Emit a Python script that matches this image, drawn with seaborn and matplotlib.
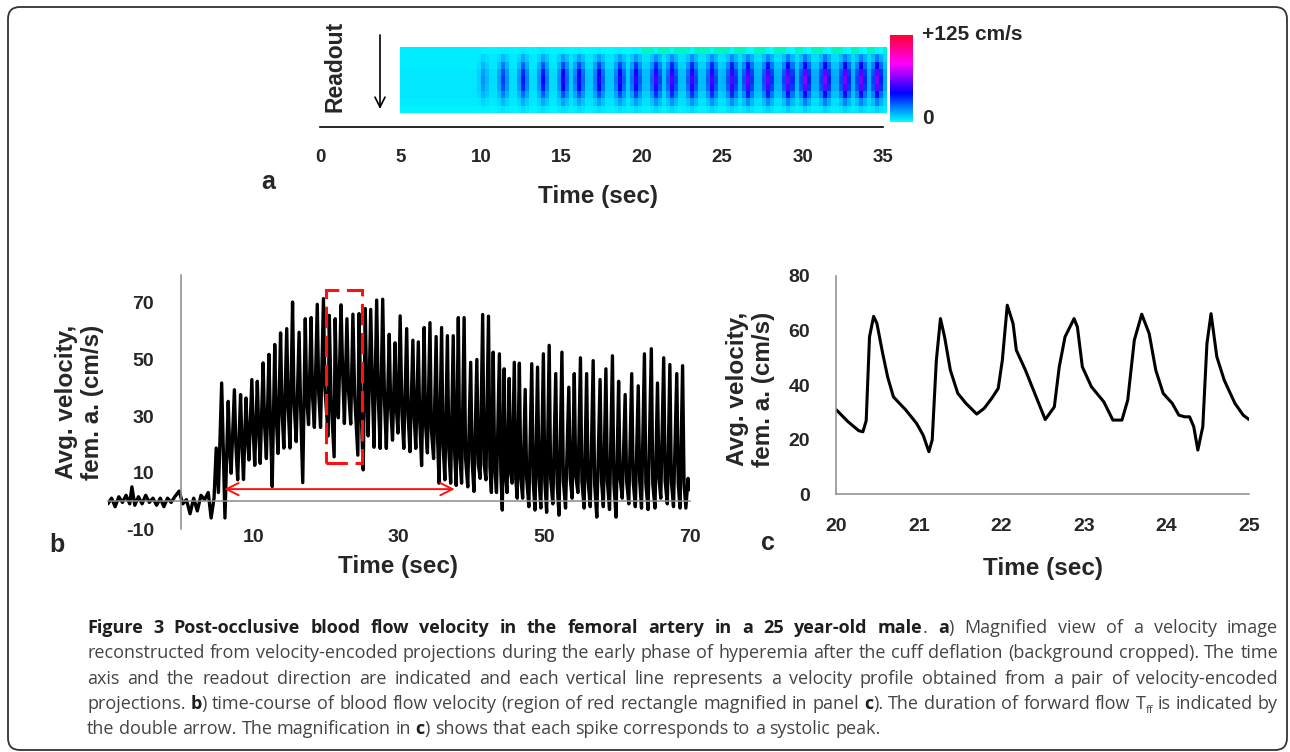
import numpy as np
import pandas as pd
import seaborn as sns
import matplotlib
matplotlib.use('Agg')
from matplotlib import pyplot as plt
from matplotlib import font_manager
from matplotlib.colors import LinearSegmentedColormap
from matplotlib.patches import Rectangle, FancyBboxPatch
from matplotlib.transforms import IdentityTransform

W, H = 1290, 752

# %% Panel a: velocity image (time columns of 0.25 s from 5 s)
aStart, aStep, aCols = 5.0, 0.25, 121
PulseTime = [10.0, 11.2, 12.4, 13.7, 14.9, 16.1, 17.3, 18.5, 19.6, 20.8, 21.8,
             23.0, 24.3, 25.4, 26.6, 27.7, 28.9, 30.1, 31.2, 32.4, 33.5, 34.6]
PulsePeak = [12, 26, 32, 35, 36, 36, 37, 38, 40, 42, 43,
             42, 42, 43, 45, 46, 48, 50, 50, 48, 48, 50]
PulseShape = [0.35, 1.0, 0.45]
RowGain = [0.05, 0.3, 0.65, 0.9, 1.0, 0.9, 0.6, 0.3, 0.1]
RowBase = [2, 3, 3, 4, 4, 4, 4, 3, 2]
BlockTime = [5, 10, 15, 20, 25, 30]
BlockLevel = [0, 2, 5, 7, 9, 10]
TopRowLevel = [3, 2, 1, -1, -1, -1]
ATicks = [0, 5, 10, 15, 20, 25, 30, 35]

# %% Panel b: averaged velocity, femoral artery (extremes of the trace)
BTime = [-10, -9.5, -9.0, -8.5, -8.0, -7.5, -7.0, -6.7, -6.3, -5.8, -5.3, -4.8, -4.3, -3.8,
         -3.3, -2.8, -2.3, -1.8, -1.3, -0.8, -0.2, 0.3, 0.8, 1.3, 1.8, 2.3, 2.8, 3.3, 3.8,
         4.2, 4.6,
         4.9, 5.2, 5.65, 5.9, 6.1, 6.55, 6.75, 6.95, 7.4, 7.6, 7.85, 8.25, 8.45, 8.65,
         9.0, 9.2, 9.4, 9.8, 10.0, 10.2, 10.55, 10.75, 10.95, 11.35, 11.55, 11.8, 12.15,
         12.35, 12.6, 12.95, 13.15, 13.4, 13.75, 13.95, 14.2, 14.6, 14.8, 15.05, 15.4,
         15.6, 15.9, 16.3, 16.5, 16.8, 17.15, 17.35, 17.6, 17.95, 18.15, 18.4, 18.8,
         19.0, 19.25, 19.65, 19.85, 20.3, 20.45, 20.7, 21.12, 21.26, 21.5, 21.7, 22.07,
         22.3, 22.53, 22.88, 23.1, 23.4, 23.7, 23.95, 24.38, 24.54, 24.8, 25.12, 25.4,
         25.6, 25.8, 26.15, 26.4, 26.6, 26.97, 27.2, 27.45, 27.8, 28.05, 28.3, 28.7,
         28.9, 29.15, 29.5, 29.7, 29.9, 30.2, 30.45, 30.7, 31.1, 31.3, 31.55, 31.95,
         32.15, 32.35, 32.7, 32.9, 33.15, 33.5, 33.7, 33.95, 34.3, 34.5, 34.8, 35.15,
         35.35, 35.55, 35.9, 36.1, 36.35, 36.7, 36.9, 37.15, 37.5, 37.7, 37.9, 38.2,
         38.4, 38.65, 39.0, 39.2, 39.5, 39.9, 40.1, 40.35, 40.75, 40.95, 41.2, 41.55,
         41.75, 42.0, 42.35, 42.55, 42.75, 43.0, 43.2, 43.45, 43.85, 44.05, 44.25, 44.5,
         44.7, 44.9, 45.2, 45.4, 45.6, 45.9, 46.1, 46.3, 46.6, 46.8, 47.05, 47.4, 47.6,
         47.9, 48.3, 48.5, 48.75, 49.1, 49.3, 49.55, 49.9, 50.1, 50.35, 50.7, 50.9,
         51.2, 51.6, 51.8, 52.05, 52.45, 52.65, 52.95, 53.4, 53.6, 53.85, 54.15, 54.35,
         54.65, 55.0, 55.2, 55.5, 55.85, 56.05, 56.35, 56.75, 56.95, 57.25, 57.7, 57.9,
         58.15, 58.5, 58.7, 59.0, 59.4, 59.6, 59.9, 60.25, 60.45, 60.75, 61.15, 61.35,
         61.65, 62.05, 62.25, 62.55, 62.95, 63.15, 63.4, 63.8, 64.0, 64.3, 64.75, 64.95,
         65.25, 65.6, 65.8, 66.05, 66.45, 66.65, 66.95, 67.3, 67.5, 67.8, 68.25, 68.45,
         68.7, 69.05, 69.25, 69.5, 69.8, 70.0]
BVel = [-1, 1, -2, 1.5, -0.5, 2, -1, 5, -1.5, 1.5, -1, 2, -0.5, 1,
        -1.5, 1, -2, 1, -0.5, 1.5, 3.5, -1, 0.5, -4.5, 1, -3.5, 2, 0.5, 3,
        -6, 1,
        18.7, 3, 41.7, 15, -6, 35.2, 18, 9.8, 39.3, 20, 7.5, 37.6, 20, 7.6,
        36.4, 22, 14.5, 42.9, 24, 12.6, 42.3, 25, 13.3, 48.8, 27, 15, 51.8,
        28, 5.1, 55.3, 30, 16.8, 59.4, 32, 18.7, 60.9, 33, 18.7, 70.3,
        35, 21, 59.6, 34, 6.5, 64.4, 36, 27, 64.8, 37, 26, 69.5,
        38, 26, 71.5, 40, 23, 65.6, 36, 15.6, 64.4, 35, 29.4, 69.3,
        45, 27.4, 64.4, 39, 27.2, 66, 37, 16.2, 66.2, 34, 11, 68,
        38, 23, 67.7, 38, 19, 71, 36, 18.6, 71.3, 35, 18.6, 58.9,
        33, 21.5, 55.9, 32, 24, 65.4, 31, 18.6, 60.9, 30, 17.4, 56.8,
        29, 18.6, 56.2, 28, 12.5, 61.3, 27, 17, 63, 25, 15, 58.1,
        22, 6.3, 61.3, 20, 7.5, 58.4, 18, 6.3, 58.4, 17, 5.5, 64.8,
        16, 6.3, 64.8, 15, 5, 49, 14, 3.4, 50, 13, 8, 65.9,
        13, 7.5, 65.3, 12, 3, 52.6, 12, 3, 52, 10, -3.2, 46.7,
        9, 3, 43.3, 10, 6.3, 49, 8, 1, 48.7, 8, 1, 39.4, 8,
        -2, 48.5, 7, -3.2, 47.3, 8, -2.5, 52, 7, -4, 55, 8,
        -1, 45, 6, -5, 52.6, 7, -2.5, 40.2, 8, 1, 45, 9,
        3, 50.6, 7, -2.5, 45, 7, -2, 49.6, 6, -5.7, 42.9, 7,
        -2, 46.7, 7, -3, 51.3, 6, -5.7, 42.3, 8, 1, 37.6, 7,
        -1, 45, 7, -2, 40.7, 7, -2.5, 52, 6, -3, 53.8, 6,
        -2.5, 41.7, 8, 1, 50.6, 7, -1, 48.2, 7, -2, 45, 6,
        -2.5, 47.8, 6, -2.5, 8, 4]
BYTicks = [-10, 10, 30, 50, 70]
BXTicks = [10, 30, 50, 70]
BXMinor = [-5, 0, 5, 15, 20, 25, 35, 40, 45, 55, 60, 65]
ZoomBox = (20, 13.5, 25, 74.6)      # t0, v0, t1, v1 of red rectangle
FlowArrow = (6.0, 37.7, 4.2)        # t start, t end, level of T_ff arrow

# %% Panel c: magnified 20-25 s
CTime = [20.0, 20.14, 20.27, 20.32, 20.36, 20.40, 20.45, 20.49, 20.56, 20.62, 20.69,
         20.84, 20.97, 21.05, 21.12, 21.16, 21.21, 21.26, 21.31, 21.38, 21.47, 21.57,
         21.70, 21.79, 21.88, 21.96, 22.01, 22.07, 22.14, 22.18, 22.29, 22.42, 22.53,
         22.64, 22.70, 22.77, 22.88, 22.92, 22.98, 23.09, 23.24, 23.35, 23.46, 23.53,
         23.61, 23.70, 23.79, 23.87, 23.96, 24.07, 24.15, 24.22, 24.28, 24.33, 24.38,
         24.44, 24.49, 24.54, 24.61, 24.70, 24.83, 24.93, 25.0]
CVel = [30.9, 26.6, 23.3, 22.9, 27, 57.7, 65.2, 62.6, 51.6, 43, 35.7,
        30.9, 26, 21.7, 15.6, 19.9, 49, 64.4, 57.7, 45.5, 37, 33.3,
        29.4, 31.5, 35.1, 38.8, 49.1, 69.3, 62.6, 52.8, 45.5, 35.7, 27.4,
        32, 46.7, 57.7, 64.4, 61.3, 46.7, 39.4, 33.9, 27.2, 27.2, 34.5,
        56.5, 66, 58.9, 45.5, 37, 33.3, 29, 28.4, 28.4, 24.8, 16.2,
        24.8, 55.2, 66.2, 50.4, 41.8, 33.3, 29, 27.4]
CXTicks = [20, 21, 22, 23, 24, 25]
CYTicks = [0, 20, 40, 60, 80]

# %% Caption (* toggles bold, _ toggles subscript)
CapLines = ["*Figure 3 Post-occlusive blood flow velocity in the femoral artery in a 25 year-old male*. *a*) Magnified view of a velocity image",
            "reconstructed from velocity-encoded projections during the early phase of hyperemia after the cuff deflation (background cropped). The time",
            "axis and the readout direction are indicated and each vertical line represents a velocity profile obtained from a pair of velocity-encoded",
            "projections. *b*) time-course of blood flow velocity (region of red rectangle magnified in panel *c*). The duration of forward flow T_ff_ is indicated by",
            "the double arrow. The magnification in *c*) shows that each spike corresponds to a systolic peak."]
CapJustify = [True, True, True, True, False]
CapBase = [633, 658.5, 684, 709, 734]

# %% style
sns.set_style('white')
plt.rcParams['font.family'] = ['Liberation Sans', 'DejaVu Sans']
plt.rcParams['font.weight'] = 'bold'
plt.rcParams['axes.unicode_minus'] = False

CapFamily = 'DejaVu Sans'
for fam in ('Liberation Sans Narrow', 'Open Sans'):
    try:
        font_manager.findfont(font_manager.FontProperties(family=fam), fallback_to_default=False)
        CapFamily = fam
        break
    except Exception:
        pass

VelCmap = LinearSegmentedColormap.from_list(
    'vel', [(0, '#00ffff'), (0.33, '#0000ff'), (0.67, '#ff00ff'), (1.0, '#ff0030')])
VelCmap.set_under('#00f5c0')

AxGray = '#8a8a8a'

fig = plt.figure(figsize=(W / 100, H / 100), dpi=100)


def axes_px(x0, y0, x1, y1):
    return fig.add_axes([x0 / W, 1 - y1 / H, (x1 - x0) / W, (y1 - y0) / H])


def ftext(x, y, s, **kw):
    return fig.text(x / W, 1 - y / H, s, **kw)


# %% panel a
Img = np.zeros((len(RowGain), aCols))
ColTime = aStart + aStep * np.arange(aCols)
Blk = np.searchsorted(BlockTime, ColTime, side='right') - 1
Img += np.array(RowBase)[:, None]
Img += np.outer(RowGain, np.array(BlockLevel)[Blk])
Img[0, :] = np.array(TopRowLevel)[Blk]
for t, p in zip(PulseTime, PulsePeak):
    c0 = int(round((t - aStart) / aStep))
    for k, f in enumerate(PulseShape):
        cc = c0 + k - 1
        if 0 <= cc < aCols:
            Img[:, cc] += np.array(RowGain) * p * f

axImg = axes_px(400.4, 47, 887, 113)
cax = axes_px(890, 35, 912.7, 122)
sns.heatmap(Img, ax=axImg, cmap=VelCmap, vmin=0, vmax=125, cbar_ax=cax,
            xticklabels=False, yticklabels=False)
cbar = axImg.collections[0].colorbar
cbar.outline.set_visible(False)
cbar.set_ticks([])

axT = axes_px(320, 112, 883, 127)
axT.patch.set_alpha(0)
for s in ('top', 'left', 'right'):
    axT.spines[s].set_visible(False)
axT.spines['bottom'].set_color('black')
axT.spines['bottom'].set_linewidth(1.2)
axT.set_xlim(0, 35)
axT.set_xticks(ATicks)
axT.set_yticks([])
axT.tick_params(axis='x', direction='out', length=6, width=1.2, pad=10, labelsize=13.5)

ftext(335, 66, 'Readout', rotation=90, ha='center', va='center', fontsize=16.5)
fig.add_artist(plt.Annotation('', xy=(380 / W, 1 - 109 / H), xytext=(380 / W, 1 - 35 / H),
                              xycoords='figure fraction', textcoords='figure fraction',
                              arrowprops=dict(arrowstyle='->', color='black', lw=1.2,
                                              mutation_scale=18, shrinkA=0, shrinkB=0)))
ftext(922, 35, '+125 cm/s', ha='left', va='center', fontsize=15)
ftext(922, 118, '0', ha='left', va='center', fontsize=15)
ftext(598, 197, 'Time (sec)', ha='center', va='center', fontsize=17.5)
ftext(268, 182, 'a', ha='center', va='center', fontsize=18)

# %% panel b
axB = axes_px(107.9, 274.6, 689.5, 529.3)
dfB = pd.DataFrame({'Time': BTime, 'Vel': BVel})
sns.lineplot(data=dfB, x='Time', y='Vel', ax=axB, color='black', lw=2.4,
             estimator=None, sort=False)
axB.set_xlim(-10, 70)
axB.set_ylim(-10, 80)
axB.spines['top'].set_visible(False)
axB.spines['right'].set_visible(False)
axB.spines['left'].set_position(('data', 0))
axB.spines['bottom'].set_position(('data', 0))
for s in ('left', 'bottom'):
    axB.spines[s].set_color(AxGray)
    axB.spines[s].set_linewidth(1.1)
axB.set_xticks(BXTicks)
axB.set_xticks(BXMinor, minor=True)
axB.set_yticks(BYTicks)
axB.tick_params(axis='x', which='major', direction='out', length=7, width=1.1,
                color=AxGray, pad=13, labelsize=14)
axB.tick_params(axis='x', which='minor', direction='in', length=4, width=1.1, color=AxGray)
axB.tick_params(axis='y', direction='out', length=5, width=1.1, color=AxGray,
                pad=14, labelsize=14)
axB.set_xlabel('')
axB.set_ylabel('')
axB.add_patch(Rectangle((ZoomBox[0], ZoomBox[1]), ZoomBox[2] - ZoomBox[0],
                        ZoomBox[3] - ZoomBox[1], fill=False, ec='#ff1010', lw=2.2,
                        ls=(0, (7, 2.5)), zorder=5))
axB.annotate('', xy=(FlowArrow[0], FlowArrow[2]), xytext=(FlowArrow[1], FlowArrow[2]),
             arrowprops=dict(arrowstyle='<->', color='#ff1010', lw=1.4,
                             mutation_scale=22, shrinkA=0, shrinkB=0), zorder=6)
ftext(79.5, 402, 'Avg. velocity,\nfem. a. (cm/s)', rotation=90, ha='center',
      va='center', fontsize=17.5, linespacing=1.15)
ftext(398, 567, 'Time (sec)', ha='center', va='center', fontsize=17.5)
ftext(57, 545, 'b', ha='center', va='center', fontsize=18)

# %% panel c
axC = axes_px(836.5, 276, 1249, 494.3)
dfC = pd.DataFrame({'Time': CTime, 'Vel': CVel})
sns.lineplot(data=dfC, x='Time', y='Vel', ax=axC, color='black', lw=2.2,
             estimator=None, sort=False)
axC.set_xlim(20, 25)
axC.set_ylim(0, 80)
axC.spines['top'].set_visible(False)
axC.spines['right'].set_visible(False)
for s in ('left', 'bottom'):
    axC.spines[s].set_color(AxGray)
    axC.spines[s].set_linewidth(1.1)
axC.set_xticks(CXTicks)
axC.set_yticks(CYTicks)
axC.tick_params(axis='x', direction='out', length=6, width=1.1, color=AxGray,
                pad=11, labelsize=14)
axC.tick_params(axis='y', direction='out', length=5, width=1.1, color=AxGray,
                pad=14, labelsize=14)
axC.set_xlabel('')
axC.set_ylabel('')
ftext(750.5, 389, 'Avg. velocity,\nfem. a. (cm/s)', rotation=90, ha='center',
      va='center', fontsize=17.5, linespacing=1.15)
ftext(1043, 568, 'Time (sec)', ha='center', va='center', fontsize=17.5)
ftext(768, 543, 'c', ha='center', va='center', fontsize=18)

# %% frame
frame = FancyBboxPatch((8, 2), 1279, 743, boxstyle='round,pad=0,rounding_size=12',
                       fc='none', ec='#333333', lw=1.3, transform=IdentityTransform())
fig.add_artist(frame)

# %% caption with bold pieces and justified lines
renderer = fig.canvas.get_renderer()
CapX0, CapX1 = 87, 1278


def parse_caption(line):
    words, bold, sub = [], False, False
    for raw in line.split(' '):
        pieces, buf = [], ''
        for ch in raw:
            if ch in '*_':
                if buf:
                    pieces.append((buf, bold, sub))
                    buf = ''
                if ch == '*':
                    bold = not bold
                else:
                    sub = not sub
            else:
                buf += ch
        if buf:
            pieces.append((buf, bold, sub))
        words.append(pieces)
    return words


def build_line(words, yb, size):
    out = []
    for pieces in words:
        wa = []
        for s, b, sb in pieces:
            t = ftext(0, yb + (4 if sb else 0), s, fontsize=size * (0.62 if sb else 1),
                      fontweight='bold' if b else 'normal', family=[CapFamily, 'DejaVu Sans'],
                      color='#1e1e1e' if b else '#444444', ha='left', va='baseline')
            wa.append((t, t.get_window_extent(renderer).width))
        out.append(wa)
    return out


def space_width(size):
    a = ftext(0, 0, 'x x', fontsize=size, fontweight='normal', family=CapFamily)
    b = ftext(0, 0, 'xx', fontsize=size, fontweight='normal', family=CapFamily)
    w = a.get_window_extent(renderer).width - b.get_window_extent(renderer).width
    a.remove()
    b.remove()
    return w


CapSize = 13.5
Parsed = [parse_caption(l) for l in CapLines]
while True:
    sw = space_width(CapSize)
    Built = [build_line(wds, yb, CapSize) for wds, yb in zip(Parsed, CapBase)]
    natural = [sum(w for wa in bl for _, w in wa) + sw * (len(bl) - 1) for bl in Built]
    if max(natural) <= (CapX1 - CapX0) * 0.995 or CapSize < 8:
        break
    for bl in Built:
        for wa in bl:
            for t, _ in wa:
                t.remove()
    CapSize -= 0.5

for bl, just in zip(Built, CapJustify):
    total = sum(w for wa in bl for _, w in wa)
    gap = (CapX1 - CapX0 - total) / (len(bl) - 1) if just else space_width(CapSize)
    x = CapX0
    for wa in bl:
        for t, w in wa:
            t.set_x(x / W)
            x += w
        x += gap

fig.savefig('out.png', dpi=100)
